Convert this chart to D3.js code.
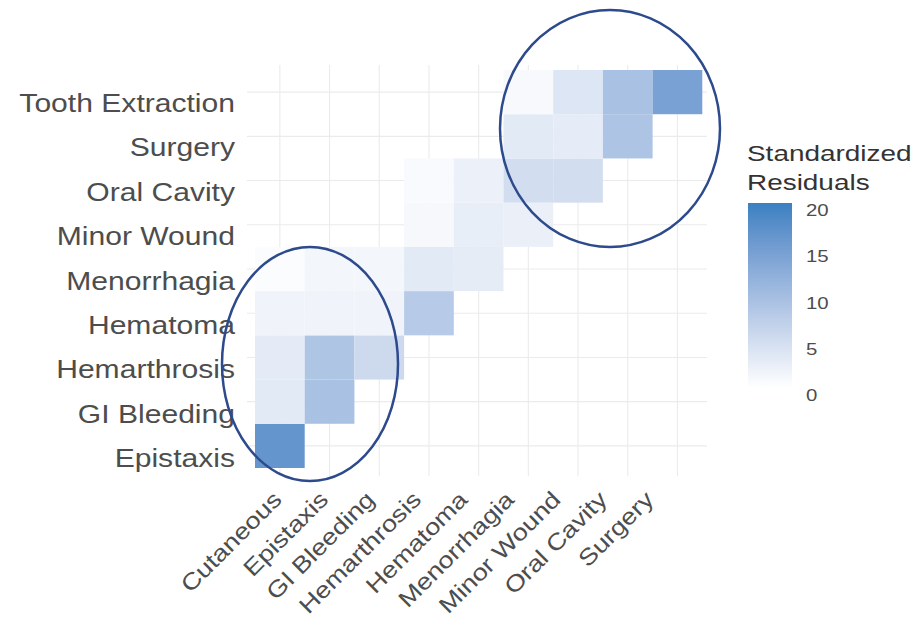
<!DOCTYPE html>
<html>
<head>
<meta charset="utf-8">
<script src="https://cdn.jsdelivr.net/npm/d3@7"></script>
<style>
  html, body { margin: 0; padding: 0; background: #ffffff; }
  svg { display: block; }
  text { font-family: "Liberation Sans", Arial, Helvetica, sans-serif; }
</style>
</head>
<body>
<svg id="chart" width="917" height="617"></svg>
<script>
// Bleeding site categories
const xCategories = ["Cutaneous", "Epistaxis", "GI Bleeding", "Hemarthrosis", "Hematoma",
                     "Menorrhagia", "Minor Wound", "Oral Cavity", "Surgery"];
const yCategories = ["Epistaxis", "GI Bleeding", "Hemarthrosis", "Hematoma", "Menorrhagia",
                     "Minor Wound", "Oral Cavity", "Surgery", "Tooth Extraction"];

// Standardized residuals, one row per y category, aligned with xCategories (null = no tile)
const residEpistaxis       = [16.5, null, null, null, null, null, null, null, null];
const residGIBleeding      = [3.2, 9.5, null, null, null, null, null, null, null];
const residHemarthrosis    = [3.0, 8.8, 5.5, null, null, null, null, null, null];
const residHematoma        = [1.7, 1.7, 1.7, 8.0, null, null, null, null, null];
const residMenorrhagia     = [0.5, 1.3, 1.3, 3.2, 2.9, null, null, null, null];
const residMinorWound      = [null, null, null, 1.0, 2.6, 2.2, null, null, null];
const residOralCavity      = [null, null, null, 0.7, 2.1, 5.0, 5.0, null, null];
const residSurgery         = [null, null, null, null, null, 3.2, 2.8, 9.0, null];
const residToothExtraction = [null, null, null, null, null, 0.9, 3.8, 9.5, 14.5];

const residualRows = [residEpistaxis, residGIBleeding, residHemarthrosis, residHematoma,
                      residMenorrhagia, residMinorWound, residOralCavity, residSurgery,
                      residToothExtraction];

// Legend
const legendTitle = ["Standardized", "Residuals"];
const legendTicks = [0, 5, 10, 15, 20];
const colorDomain = [0, 20];

// Flatten to tiles
const tiles = [];
residualRows.forEach((row, i) => {
  row.forEach((v, j) => {
    if (v !== null) tiles.push({ y: yCategories[i], x: xCategories[j], value: v });
  });
});

const svg = d3.select("#chart");
const stretch = 1.18;

const x = d3.scaleBand().domain(xCategories).range([255, 702.3]).padding(0);
const y = d3.scaleBand().domain(yCategories).range([468, 70]).padding(0);
const color = d3.scaleLinear().domain(colorDomain).range(["#ffffff", "#3a80c2"])
  .interpolate(d3.interpolateLab);

// Grid lines at category centres
const grid = svg.append("g").attr("stroke", "#ebebeb").attr("stroke-width", 1.1);
grid.selectAll("line.v").data(xCategories).join("line")
  .attr("class", "v")
  .attr("x1", d => x(d) + x.bandwidth() / 2).attr("x2", d => x(d) + x.bandwidth() / 2)
  .attr("y1", 65).attr("y2", 476);
grid.selectAll("line.h").data(yCategories).join("line")
  .attr("class", "h")
  .attr("y1", d => y(d) + y.bandwidth() / 2).attr("y2", d => y(d) + y.bandwidth() / 2)
  .attr("x1", 247).attr("x2", 707);

// Tiles
svg.append("g").selectAll("rect").data(tiles).join("rect")
  .attr("x", d => x(d.x))
  .attr("y", d => y(d.y))
  .attr("width", x.bandwidth())
  .attr("height", y.bandwidth())
  .attr("fill", d => color(d.value));

// Y axis labels
const yLabel = d3.scalePoint().domain(yCategories).range([458.4, 103.4]);
const yAxis = svg.append("g").attr("transform", "translate(235,0)")
  .call(d3.axisLeft(yLabel).tickSize(0).tickPadding(0));
yAxis.select(".domain").remove();
yAxis.selectAll("text")
  .attr("x", 0)
  .attr("transform", `scale(${stretch},1)`)
  .attr("fill", "#4d4d4d")
  .style("font-size", "25.5px")
  .style("font-family", "'Liberation Sans', Arial, sans-serif");

// X axis labels, rotated
const xLabel = d3.scalePoint().domain(xCategories).range([283, 655]);
svg.append("g").selectAll("text").data(xCategories).join("text")
  .attr("transform", d => `translate(${xLabel(d)},501) rotate(-45) scale(${stretch},1)`)
  .attr("text-anchor", "end")
  .attr("fill", "#4d4d4d")
  .style("font-size", "23px")
  .text(d => d);

// Colour bar legend
const legendY = d3.scaleLinear().domain(colorDomain).range([388, 203]);
const defs = svg.append("defs");
const grad = defs.append("linearGradient").attr("id", "residGrad")
  .attr("x1", 0).attr("y1", 1).attr("x2", 0).attr("y2", 0);
d3.range(0, 21, 2).forEach(v => {
  grad.append("stop").attr("offset", v / 20).attr("stop-color", color(v));
});
svg.append("rect")
  .attr("x", 748).attr("y", legendY(colorDomain[1]))
  .attr("width", 44).attr("height", legendY(colorDomain[0]) - legendY(colorDomain[1]))
  .attr("fill", "url(#residGrad)");

svg.append("g").selectAll("text").data(legendTitle).join("text")
  .attr("transform", (d, i) => `translate(747,${161 + i * 29}) scale(1.27,1)`)
  .attr("fill", "#333333")
  .style("font-size", "22px")
  .text(d => d);

svg.append("g").selectAll("text").data(legendTicks).join("text")
  .attr("transform", d => `translate(806,${legendY(d) + 7}) scale(1.2,1)`)
  .attr("dy", "0.36em")
  .attr("fill", "#4d4d4d")
  .style("font-size", "17px")
  .text(d => d);

// Highlight ellipses
const highlights = [
  { cx: 610, cy: 128.5, rx: 110, ry: 118.5 },
  { cx: 310, cy: 364, rx: 88, ry: 117 }
];
svg.append("g").selectAll("ellipse").data(highlights).join("ellipse")
  .attr("cx", d => d.cx).attr("cy", d => d.cy)
  .attr("rx", d => d.rx).attr("ry", d => d.ry)
  .attr("fill", "none")
  .attr("stroke", "#2d4a8c")
  .attr("stroke-width", 2.5);
</script>
</body>
</html>
